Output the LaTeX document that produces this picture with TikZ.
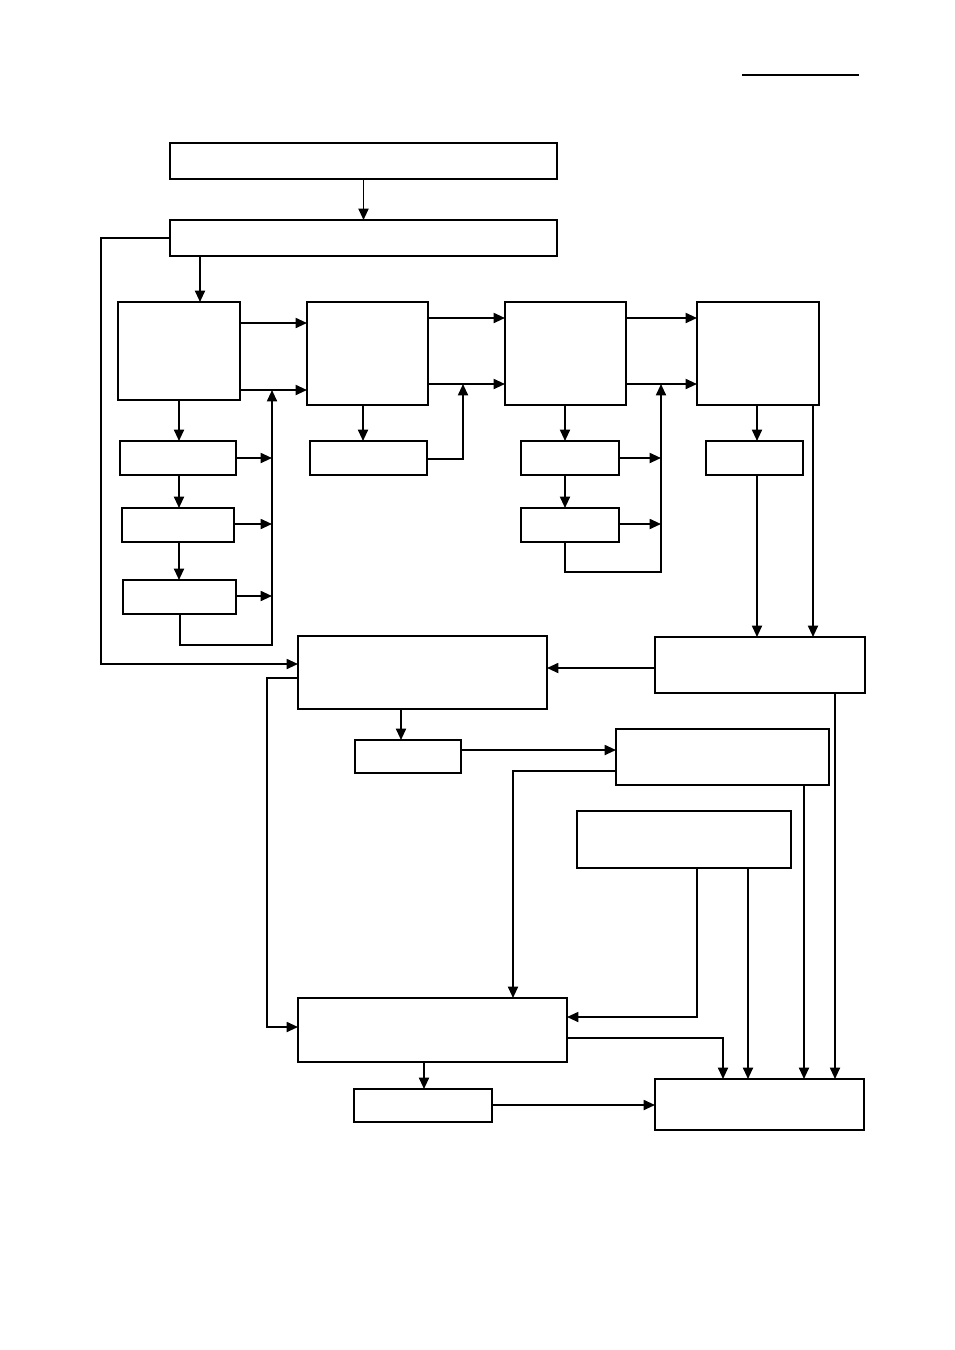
\documentclass[tikz,border=0pt]{standalone}
\usetikzlibrary{arrows.meta,fit}
\begin{document}
\begin{tikzpicture}[x=0.75pt,y=-0.75pt,
  box/.style={draw,line width=1.35pt,inner sep=0pt,outer sep=0pt,fill=white},
  ln/.style={line width=1.35pt},
  arr/.style={line width=1.35pt,-{Triangle[length=8.5pt,width=7.5pt]}}]
\useasboundingbox (0,0) rectangle (954,1350);
\draw[line width=2.2pt] (742,75) -- (859,75);
% boxes
\node[box,fit={(170,143)(557,179)}] (T1) {};
\node[box,fit={(170,220)(557,256)}] (T2) {};
\node[box,fit={(118,302)(240,400)}] (A) {};
\node[box,fit={(307,302)(428,405)}] (B) {};
\node[box,fit={(505,302)(626,405)}] (C) {};
\node[box,fit={(697,302)(819,405)}] (D) {};
\node[box,fit={(120,441)(236,475)}] (A1) {};
\node[box,fit={(122,508)(234,542)}] (A2) {};
\node[box,fit={(123,580)(236,614)}] (A3) {};
\node[box,fit={(310,441)(427,475)}] (B1) {};
\node[box,fit={(521,441)(619,475)}] (C1) {};
\node[box,fit={(521,508)(619,542)}] (C2) {};
\node[box,fit={(706,441)(803,475)}] (D1) {};
\node[box,fit={(298,636)(547,709)}] (M1) {};
\node[box,fit={(655,637)(865,693)}] (E) {};
\node[box,fit={(355,740)(461,773)}] (M1a) {};
\node[box,fit={(616,729)(829,785)}] (G) {};
\node[box,fit={(577,811)(791,868)}] (H) {};
\node[box,fit={(298,998)(567,1062)}] (M2) {};
\node[box,fit={(354,1089)(492,1122)}] (M2a) {};
\node[box,fit={(655,1079)(864,1130)}] (F) {};
% top
\draw[arr] (T1.south) -- (T2.north);
\draw[arr] (T2.south -| 200,0) -- (A.north -| 200,0);
\draw[arr] (T2.west |- 0,238) -- (101,238) -- (101,664) -- (M1.west |- 0,664);
% main row
\draw[arr] (A.east |- 0,323) -- (B.west |- 0,323);
\draw[arr] (A.east |- 0,390) -- (B.west |- 0,390);
\draw[arr] (B.east |- 0,318) -- (C.west |- 0,318);
\draw[arr] (B.east |- 0,384) -- (C.west |- 0,384);
\draw[arr] (C.east |- 0,318) -- (D.west |- 0,318);
\draw[arr] (C.east |- 0,384) -- (D.west |- 0,384);
% A column
\draw[arr] (A.south -| 179,0) -- (A1.north -| 179,0);
\draw[arr] (A1.south -| 179,0) -- (A2.north -| 179,0);
\draw[arr] (A2.south -| 179,0) -- (A3.north -| 179,0);
\draw[arr] (A1.east |- 0,458) -- (272,458);
\draw[arr] (A2.east |- 0,524) -- (272,524);
\draw[arr] (A3.east |- 0,596) -- (272,596);
\draw[arr] (A3.south -| 180,0) -- (180,645) -- (272,645) -- (272,390);
% B column
\draw[arr] (B.south -| 363,0) -- (B1.north -| 363,0);
\draw[arr] (B1.east |- 0,459) -- (463,459) -- (463,384);
% C column
\draw[arr] (C.south -| 565,0) -- (C1.north -| 565,0);
\draw[arr] (C1.south -| 565,0) -- (C2.north -| 565,0);
\draw[arr] (C1.east |- 0,458) -- (661,458);
\draw[arr] (C2.east |- 0,524) -- (661,524);
\draw[arr] (C2.south -| 565,0) -- (565,572) -- (661,572) -- (661,384);
% D column
\draw[arr] (D.south -| 757,0) -- (D1.north -| 757,0);
\draw[arr] (D1.south -| 757,0) -- (E.north -| 757,0);
\draw[arr] (D.south -| 813,0) -- (E.north -| 813,0);
% lower part
\draw[arr] (E.west |- 0,668) -- (M1.east |- 0,668);
\draw[arr] (E.south -| 835,0) -- (F.north -| 835,0);
\draw[arr] (M1.west |- 0,678) -- (267,678) -- (267,1027) -- (M2.west |- 0,1027);
\draw[arr] (M1.south -| 401,0) -- (M1a.north -| 401,0);
\draw[arr] (M1a.east |- 0,750) -- (G.west |- 0,750);
\draw[arr] (G.west |- 0,771) -- (513,771) -- (M2.north -| 513,0);
\draw[arr] (G.south -| 804,0) -- (F.north -| 804,0);
\draw[arr] (H.south -| 697,0) -- (697,1017) -- (M2.east |- 0,1017);
\draw[arr] (H.south -| 748,0) -- (F.north -| 748,0);
\draw[arr] (M2.east |- 0,1038) -- (723,1038) -- (F.north -| 723,0);
\draw[arr] (M2.south -| 424,0) -- (M2a.north -| 424,0);
\draw[arr] (M2a.east |- 0,1105) -- (F.west |- 0,1105);
\end{tikzpicture}
\end{document}
